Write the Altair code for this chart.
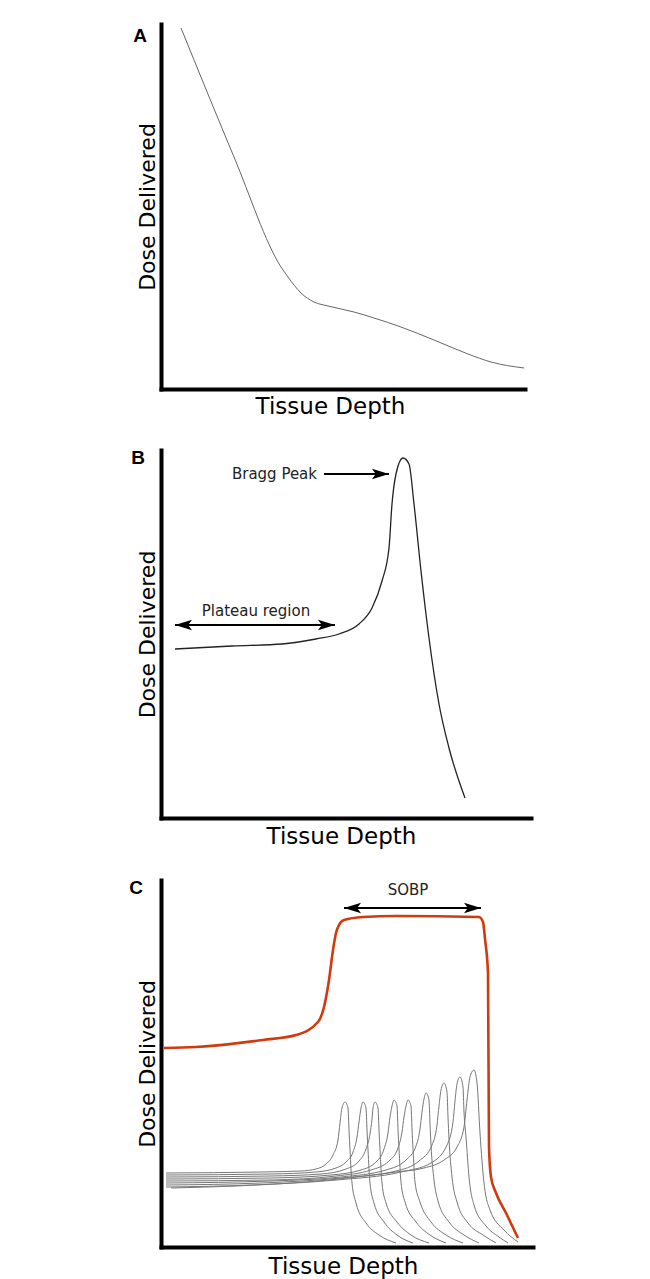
import altair as alt
import pandas as pd

# ---------------- Panel A : photon depth-dose ----------------
a_depth = [20, 73, 120, 127, 140, 153, 167, 193, 213, 240, 273, 307, 330, 363]
a_dose = [361, 232, 122, 112, 96, 87, 83, 77, 71, 62, 49, 35, 27, 21]

# ---------------- Panel B : single Bragg curve ----------------
b_depth = [14, 71, 121, 155, 178, 198, 211, 221, 228, 231, 235, 242, 248, 253, 260, 268, 278, 288, 304]
b_dose = [169, 172, 174, 179, 184, 194, 210, 237, 270, 314, 344, 360, 354, 314, 247, 180, 114, 70, 20]

# ---------------- Panel C : SOBP + pristine peaks ----------------
sobp_depth = [3, 35, 102, 135, 157, 163, 168, 172, 175, 178, 183, 202, 235, 318, 322, 324, 327, 328, 330, 335, 345, 357]
sobp_dose = [199, 200, 207, 212, 225, 240, 267, 297, 314, 322, 327, 330, 331, 330, 325, 308, 274, 100, 70, 54, 34, 9]

peak1_depth = [5, 100, 140, 155, 165, 172, 177, 179, 181, 184, 187, 188, 189, 191, 195, 205, 218, 235]
peak1_dose = [74, 75, 76, 78, 83, 92, 107, 124, 139, 145, 139, 117, 97, 64, 44, 24, 12, 4]
peak2_depth = [5, 110, 155, 175, 185, 192, 196, 198, 200, 202, 205, 206, 207, 209, 213, 223, 236, 252]
peak2_dose = [72, 73, 75, 79, 85, 95, 110, 125, 139, 145, 139, 117, 97, 64, 44, 25, 12, 4]
peak3_depth = [5, 110, 160, 185, 198, 205, 209, 211, 212, 214, 217, 218, 219, 221, 225, 236, 250, 268]
peak3_dose = [70, 71, 73, 78, 86, 98, 113, 128, 139, 145, 139, 117, 97, 64, 44, 25, 12, 4]
peak4_depth = [5, 110, 170, 200, 215, 223, 227, 229, 231, 233, 236, 237, 238, 240, 244, 255, 269, 285]
peak4_dose = [68, 69, 72, 77, 85, 98, 114, 130, 141, 147, 141, 118, 98, 65, 45, 25, 12, 4]
peak5_depth = [5, 110, 175, 210, 228, 237, 241, 243, 245, 247, 250, 251, 252, 254, 259, 270, 285, 302]
peak5_dose = [66, 67, 71, 77, 86, 99, 115, 130, 141, 147, 141, 118, 98, 65, 45, 25, 12, 4]
peak6_depth = [5, 110, 180, 225, 245, 255, 259, 261, 263, 265, 268, 269, 270, 273, 277, 288, 303, 318]
peak6_dose = [64, 66, 70, 77, 87, 101, 118, 135, 148, 154, 147, 123, 102, 67, 46, 25, 12, 4]
peak7_depth = [5, 100, 180, 235, 258, 271, 276, 278, 280, 283, 286, 287, 288, 291, 296, 307, 322, 335]
peak7_dose = [62, 64, 69, 76, 86, 102, 122, 141, 157, 164, 155, 130, 108, 70, 45, 24, 12, 4]
peak8_depth = [5, 90, 175, 240, 270, 286, 292, 294, 296, 299, 302, 303, 305, 308, 313, 325, 338, 347]
peak8_dose = [60, 62, 67, 75, 84, 102, 125, 146, 163, 170, 160, 135, 110, 70, 42, 21, 10, 4]
peak9_depth = [10, 75, 168, 235, 263, 283, 296, 303, 306, 309, 313, 316, 319, 323, 329, 343, 357]
peak9_dose = [59, 61, 67, 75, 79, 87, 100, 120, 147, 170, 177, 164, 114, 64, 37, 17, 5]

peaks = [
    (peak1_depth, peak1_dose), (peak2_depth, peak2_dose), (peak3_depth, peak3_dose),
    (peak4_depth, peak4_dose), (peak5_depth, peak5_dose), (peak6_depth, peak6_dose),
    (peak7_depth, peak7_dose), (peak8_depth, peak8_dose), (peak9_depth, peak9_dose),
]

# annotations (text, anchor depth, anchor dose)
bragg_label = ("Bragg Peak", 156, 344)
bragg_arrow = (163, 228, 344)          # from depth, to depth, dose
plateau_label = ("Plateau region", 95, 207)
plateau_arrow = (14, 174, 193)
sobp_label = ("SOBP", 247, 357)
sobp_arrow = (183, 320, 339)

FONT = "DejaVu Sans"
RED = "#d13a0d"
ARROW_R = "M1,0 L-1,-0.62 L-0.55,0 L-1,0.62 Z"
ARROW_L = "M-1,0 L1,-0.62 L0.55,0 L1,0.62 Z"


def axes(xmax, ymax, xpad, xtitle_pos):
    x = alt.X("depth:Q", scale=alt.Scale(domain=[0, xmax], nice=False, zero=False),
              axis=alt.Axis(title="Tissue Depth", labels=False, ticks=False, grid=False,
                            domainWidth=4, domainColor="black", domainCap="square",
                            titleFont=FONT, titleFontSize=23, titleFontWeight="normal",
                            titleColor="black", titlePadding=xpad, titleX=xtitle_pos,
                            titleAlign="center"))
    y = alt.Y("dose:Q", scale=alt.Scale(domain=[0, ymax], nice=False, zero=False),
              axis=alt.Axis(title="Dose Delivered", labels=False, ticks=False, grid=False,
                            domainWidth=4, domainColor="black", domainCap="square",
                            titleFont=FONT, titleFontSize=22, titleFontWeight="normal",
                            titleColor="black", titlePadding=2))
    return x, y


def letter(ch, dx, dy):
    return alt.Chart(pd.DataFrame({"t": [ch]})).mark_text(
        font="Liberation Sans", fontWeight="bold", fontSize=19, color="black",
        align="center", baseline="middle").encode(
        x=alt.value(dx), y=alt.value(dy), text="t:N")


def arrow(x0, x1, yv):
    df = pd.DataFrame({"depth": [x0], "depth2": [x1], "dose": [yv]})
    shaft = alt.Chart(df).mark_rule(strokeWidth=2, color="black").encode(
        x="depth:Q", x2="depth2:Q", y="dose:Q")
    left = alt.Chart(df).mark_point(shape=ARROW_L, size=290, filled=True, opacity=1,
                                    color="black", xOffset=8.5).encode(x="depth:Q", y="dose:Q")
    right = alt.Chart(df).mark_point(shape=ARROW_R, size=290, filled=True, opacity=1,
                                     color="black", xOffset=-8.5).encode(x="depth2:Q", y="dose:Q")
    return shaft, left, right


def single_arrow(x0, x1, yv):
    df = pd.DataFrame({"depth": [x0], "depth2": [x1], "dose": [yv]})
    shaft = alt.Chart(df).mark_rule(strokeWidth=2, color="black").encode(
        x="depth:Q", x2="depth2:Q", y="dose:Q")
    right = alt.Chart(df).mark_point(shape=ARROW_R, size=290, filled=True, opacity=1,
                                     color="black", xOffset=-8.5).encode(x="depth2:Q", y="dose:Q")
    return shaft, right


def label(txt, xv, yv, align):
    return alt.Chart(pd.DataFrame({"depth": [xv], "dose": [yv], "t": [txt]})).mark_text(
        font=FONT, fontSize=15, color="#222", align=align, baseline="middle").encode(
        x="depth:Q", y="dose:Q", text="t:N")


# ---- Panel A ----
xa, ya = axes(364, 365, 6, 169)
dfa = pd.DataFrame({"depth": a_depth, "dose": a_dose})
chart_a = alt.layer(
    alt.Chart(dfa).mark_line(color="#666", strokeWidth=1, interpolate="monotone").encode(x=xa, y=ya),
    letter("A", -21, 12),
).properties(width=364, height=365)

# ---- Panel B ----
xb, yb = axes(370, 368, 7, 180)
dfb = pd.DataFrame({"depth": b_depth, "dose": b_dose})
bs, br = single_arrow(*bragg_arrow)
chart_b = alt.layer(
    alt.Chart(dfb).mark_line(color="#222", strokeWidth=1.3, interpolate="monotone").encode(x=xb, y=yb),
    label(bragg_label[0], bragg_label[1], bragg_label[2], "right"),
    bs, br,
    label(plateau_label[0], plateau_label[1], plateau_label[2], "center"),
    *arrow(*plateau_arrow),
    letter("B", -23, 8),
).properties(width=370, height=368)

# ---- Panel C ----
xc, yc = axes(372, 367, 8, 182)
rows = []
for i, (d, v) in enumerate(peaks):
    for dd, vv in zip(d, v):
        rows.append({"curve": f"p{i + 1}", "depth": dd, "dose": vv})
dfp = pd.DataFrame(rows)
dfs = pd.DataFrame({"depth": sobp_depth, "dose": sobp_dose})
chart_c = alt.layer(
    alt.Chart(dfp).mark_line(color="#777", strokeWidth=1, interpolate="monotone").encode(
        x=xc, y=yc, detail="curve:N"),
    alt.Chart(dfs).mark_line(color=RED, strokeWidth=2.6, interpolate="monotone").encode(x=xc, y=yc),
    label(sobp_label[0], sobp_label[1], sobp_label[2], "center"),
    *arrow(*sobp_arrow),
    letter("C", -25, 8),
).properties(width=372, height=367)

chart = alt.vconcat(chart_a, chart_b, chart_c, spacing=31).properties(
    padding={"left": 121, "top": 16, "right": 5, "bottom": 5},
    background="white",
).configure_view(strokeWidth=0)

chart.save("out.html", embed_options={"renderer": "svg", "actions": False})
